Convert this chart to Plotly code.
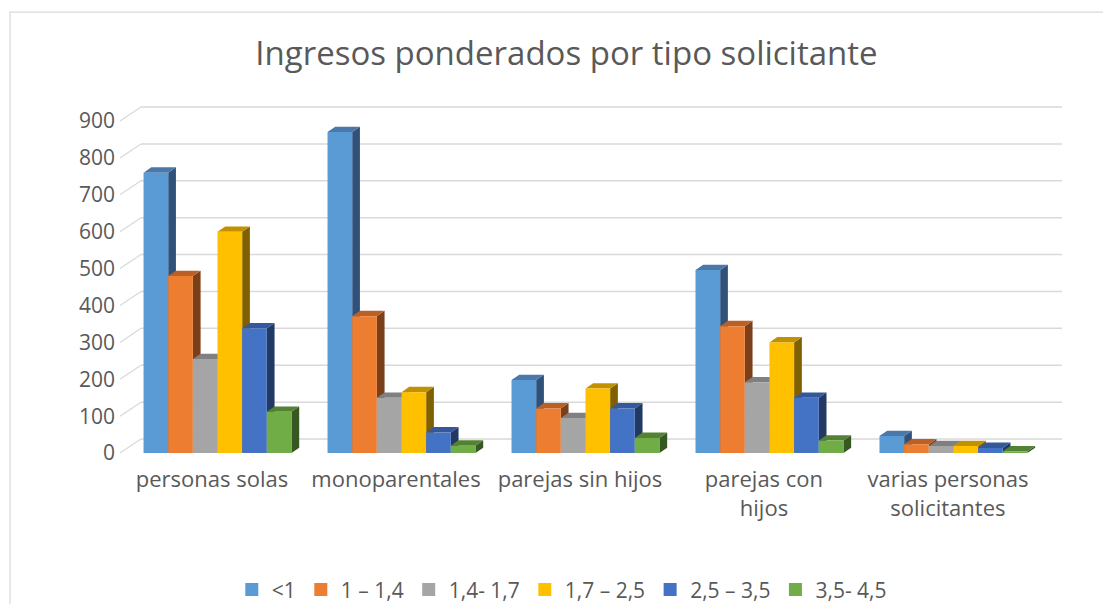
import plotly.graph_objects as go

categories = ["personas solas", "monoparentales", "parejas sin hijos",
              "parejas con<br>hijos", "varias personas<br>solicitantes"]
series_names = ["<1", "1 – 1,4", "1,4- 1,7", "1,7 – 2,5", "2,5 – 3,5", "3,5- 4,5"]
values_lt1 = [760, 870, 198, 496, 46]
values_1_14 = [480, 371, 121, 344, 24]
values_14_17 = [255, 150, 95, 192, 19]
values_17_25 = [600, 165, 175, 300, 19]
values_25_35 = [338, 56, 121, 150, 14]
values_35_45 = [112, 20, 41, 34, 5]
y_ticks = [0, 100, 200, 300, 400, 500, 600, 700, 800, 900]

all_values = [values_lt1, values_1_14, values_14_17, values_17_25, values_25_35, values_35_45]
front_colors = ["#5B9BD5", "#ED7D31", "#A5A5A5", "#FFC000", "#4472C4", "#70AD47"]
top_colors = ["#4A78A8", "#BA6026", "#808080", "#C29100", "#34589A", "#548235"]
side_colors = ["#30527A", "#7B3F19", "#555555", "#806000", "#223A63", "#375723"]

# geometry (data units)
bw = 0.134      # bar width
gshift = 0.03   # group shift
ddx = 0.042     # bar depth x
ddy = 14.4      # bar depth y
wdx = 0.114     # wall depth x
wdy = 38        # wall depth y
xmin, xmax = -0.5, 4.62
ymin, ymax = -8, 957

fig = go.Figure()

for j, (vals, name) in enumerate(zip(all_values, series_names)):
    fx, fy, sx, sy, tx, ty = [], [], [], [], [], []
    for i, v in enumerate(vals):
        xl = i + gshift + (j - 3) * bw
        xr = xl + bw
        fx += [xl, xr, xr, xl, xl, None]
        fy += [0, 0, v, v, 0, None]
        sx += [xr, xr + ddx, xr + ddx, xr, xr, None]
        sy += [0, ddy, v + ddy, v, 0, None]
        tx += [xl, xl + ddx, xr + ddx, xr, xl, None]
        ty += [v, v + ddy, v + ddy, v, v, None]
    for xs, ys, col in ((sx, sy, side_colors[j]), (tx, ty, top_colors[j]), (fx, fy, front_colors[j])):
        fig.add_trace(go.Scatter(x=xs, y=ys, mode="lines", fill="toself",
                                 fillcolor=col, line=dict(width=0, color=col),
                                 showlegend=False, hoverinfo="skip"))
    fig.add_trace(go.Scatter(x=[None], y=[None], mode="markers", name=name,
                             marker=dict(symbol="square", size=13, color=front_colors[j]),
                             showlegend=True))

shapes = []
for t in y_ticks:
    shapes.append(dict(type="line", xref="x", yref="y", x0=xmin + wdx, x1=xmax,
                       y0=t + wdy, y1=t + wdy, line=dict(color="#D9D9D9", width=1.5), layer="below"))
    shapes.append(dict(type="line", xref="x", yref="y", x0=xmin, x1=xmin + wdx,
                       y0=t, y1=t + wdy, line=dict(color="#D9D9D9", width=1.2), layer="below"))
# chart border
shapes.append(dict(type="rect", xref="paper", yref="paper", x0=-0.1168, x1=1.1,
                   y0=-0.6, y1=1.247, line=dict(color="#D9D9D9", width=1.2), layer="below"))

fig.update_layout(
    width=1095, height=596,
    margin=dict(l=112, r=41, t=92, b=148, autoexpand=False),
    paper_bgcolor="white", plot_bgcolor="rgba(0,0,0,0)",
    font=dict(family="Open Sans, sans-serif", color="#595959"),
    title=dict(text="Ingresos ponderados por tipo solicitante", x=0.51, xanchor="center",
               y=0.9245, yanchor="middle", yref="container",
               font=dict(size=33, color="#595959", family="Open Sans, sans-serif")),
    xaxis=dict(range=[xmin, xmax], tickmode="array", tickvals=list(range(len(categories))),
               ticktext=categories, showgrid=False, zeroline=False, showline=False,
               ticks="", tickfont=dict(size=22, color="#595959"), ticklabelstandoff=8,
               fixedrange=True),
    yaxis=dict(range=[ymin, ymax], tickmode="array", tickvals=y_ticks,
               showgrid=False, zeroline=False, showline=False, ticks="",
               tickfont=dict(size=21, color="#595959"), ticklabelstandoff=4, fixedrange=True),
    legend=dict(orientation="h", x=0.469, xanchor="center", y=-0.376, yanchor="middle",
                font=dict(size=21, color="#595959")),
    shapes=shapes,
)

fig.write_html("out.html")
